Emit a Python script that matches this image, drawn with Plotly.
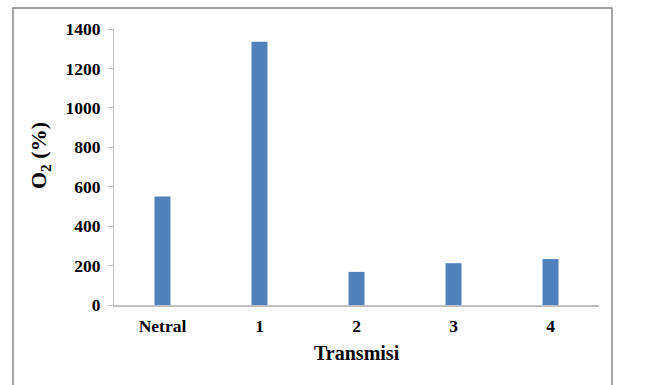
import plotly.graph_objects as go

categories = ["Netral", "1", "2", "3", "4"]
values = [550, 1335, 168, 212, 233]
y_ticks = [0, 200, 400, 600, 800, 1000, 1200, 1400]

font_family = "Liberation Serif, Times New Roman, serif"

fig = go.Figure(go.Bar(
    x=categories, y=values,
    marker=dict(color="#4F81BD", line=dict(color="#4F81BD", width=0)),
))

L, R, T, B = 114, 50, 29, 80
pw, ph = 649 - L - R, 385 - T - B

fig.update_layout(
    width=649, height=385,
    margin=dict(l=L, r=R, t=T, b=B, autoexpand=False),
    plot_bgcolor="white", paper_bgcolor="white",
    bargap=0.835,
    showlegend=False,
    font=dict(family=font_family, color="black"),
    xaxis=dict(
        showline=True, linecolor="#BFBFBF", linewidth=2,
        ticks="", showgrid=False, automargin=False,
        tickfont=dict(size=17.5, family=font_family, weight="bold"),
        ticklabelstandoff=4,
    ),
    yaxis=dict(
        range=[0, 1400], tickvals=y_ticks,
        showline=True, linecolor="#BFBFBF", linewidth=1,
        ticks="outside", ticklen=5, tickcolor="#BFBFBF",
        showgrid=False, zeroline=False, automargin=False,
        tickfont=dict(size=17.5, family=font_family, weight="bold"),
        ticklabelstandoff=4,
    ),
    annotations=[
        dict(text="Transmisi", xref="paper", yref="paper",
             x=0.5, y=(305 - 353) / ph, xanchor="center", yanchor="middle",
             showarrow=False, font=dict(size=20, family=font_family, weight="bold")),
        dict(text="O<sub>2</sub> (%)", xref="paper", yref="paper",
             x=(40 - L) / pw, y=(305 - 156) / ph, xanchor="center", yanchor="middle",
             textangle=-90, showarrow=False,
             font=dict(size=22, family=font_family, weight="bold")),
    ],
    shapes=[dict(
        type="rect", xref="paper", yref="paper",
        x0=(13 - L) / pw, x1=(612 - L) / pw,
        y0=(305 - 395) / ph, y1=(305 - 8) / ph,
        line=dict(color="#868686", width=1.5), fillcolor="rgba(0,0,0,0)", layer="below",
    )],
)

fig.write_html(
    "out.html",
    config={"displayModeBar": False},
    post_script="document.body.style.margin='0';document.body.style.overflow='hidden';",
)
